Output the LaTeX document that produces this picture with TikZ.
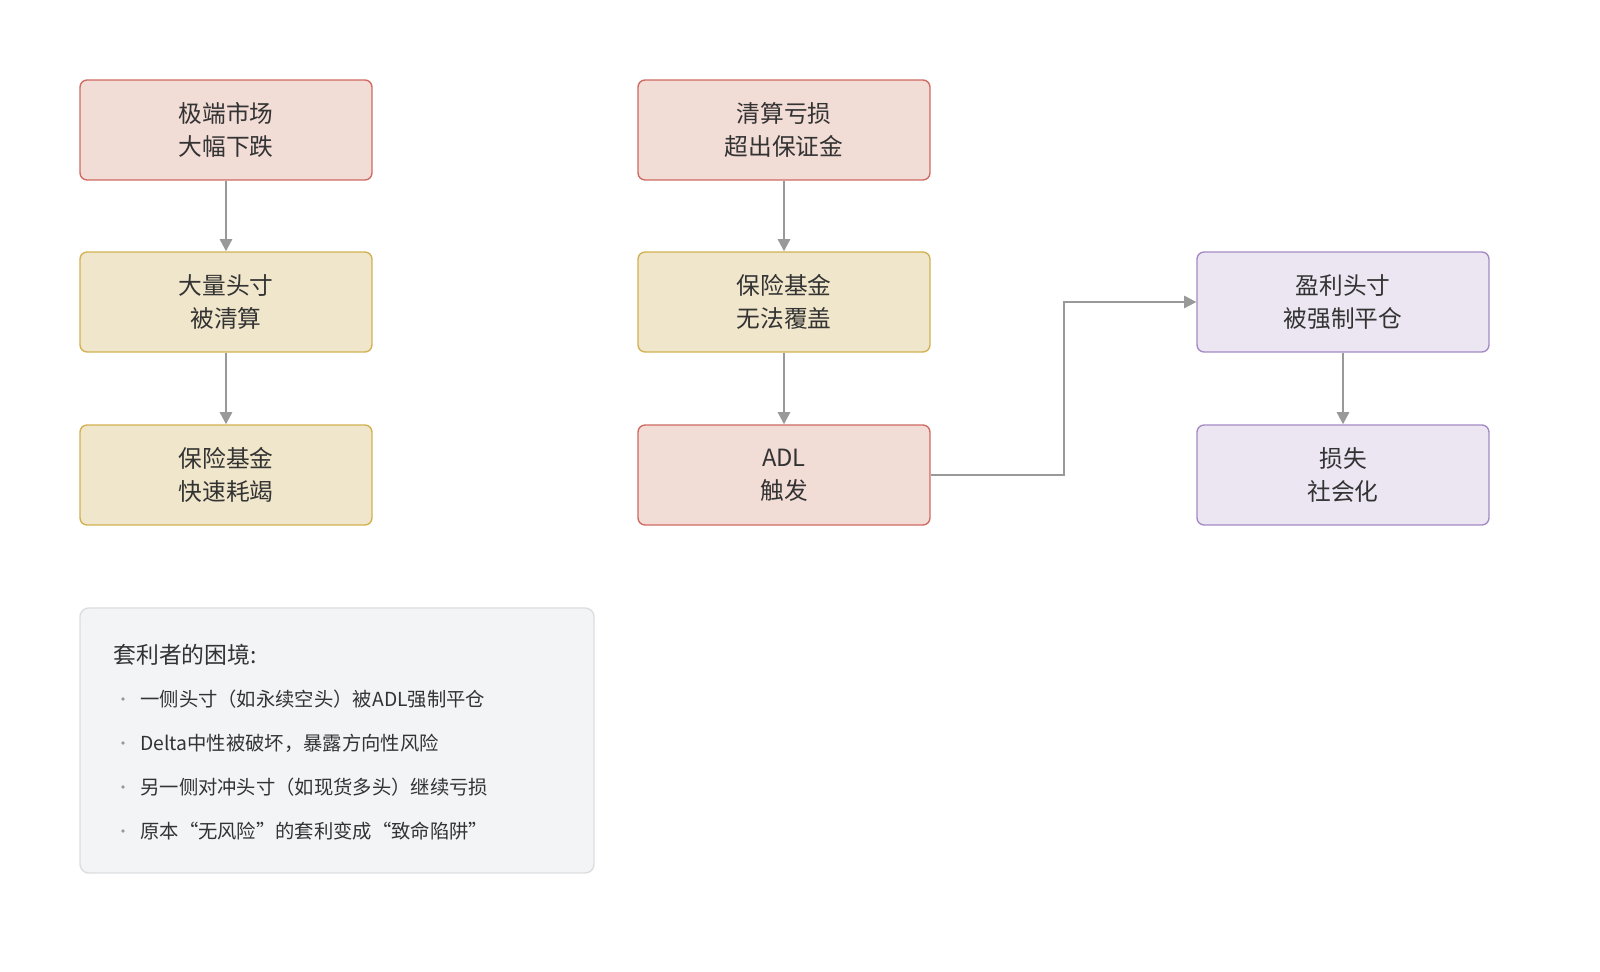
\documentclass[tikz,border=0pt]{standalone}
\usepackage{fontspec}
\setmainfont{Noto Sans CJK SC}
\usetikzlibrary{arrows.meta,positioning}
\definecolor{redF}{HTML}{F2DCD6}\definecolor{redD}{HTML}{D06A62}
\definecolor{yelF}{HTML}{F0E6CB}\definecolor{yelD}{HTML}{D2B150}
\definecolor{purF}{HTML}{ECE6F2}\definecolor{purD}{HTML}{A48BC4}
\definecolor{noteF}{HTML}{F3F4F6}\definecolor{noteD}{HTML}{DCDDE0}
\definecolor{lineC}{HTML}{999999}\definecolor{txtC}{HTML}{333333}
\tikzset{
 BoxStyle/.style = {draw, rounded corners=4pt, line width=0.8pt,
  minimum width=5.84cm, minimum height=2cm, align=center,
  text=txtC, font=\fontsize{13.5}{19}\selectfont, inner sep=0pt},
 RedBox/.style = {BoxStyle, fill=redF, draw=redD},
 YelBox/.style = {BoxStyle, fill=yelF, draw=yelD},
 PurBox/.style = {BoxStyle, fill=purF, draw=purD},
 FlowArrow/.style = {draw=lineC, line width=1.3pt, -{Triangle[length=7pt,width=7pt]}},
 BulletStyle/.style = {anchor=west, text=txtC, font=\fontsize{11}{14}\selectfont, inner sep=0pt}
}
\begin{document}
\begin{tikzpicture}[x=0.02cm,y=-0.02cm]
\useasboundingbox (0,0) rectangle (1600,972);

\node[RedBox] (crash) at (226,130) {极端市场\\大幅下跌};
\node[YelBox] (liq) at (226,302) {大量头寸\\被清算};
\node[YelBox] (drain) at (226,475) {保险基金\\快速耗竭};

\node[RedBox] (loss) at (784,130) {清算亏损\\超出保证金};
\node[YelBox] (fund) at (784,302) {保险基金\\无法覆盖};
\node[RedBox] (adl) at (784,475) {ADL\\触发};

\node[PurBox] (win) at (1343,302) {盈利头寸\\被强制平仓};
\node[PurBox] (social) at (1343,475) {损失\\社会化};

\draw[FlowArrow] (crash) -- (liq);
\draw[FlowArrow] (liq) -- (drain);
\draw[FlowArrow] (loss) -- (fund);
\draw[FlowArrow] (fund) -- (adl);
\draw[FlowArrow] (adl.east) -- ++(133,0) |- (win.west);
\draw[FlowArrow] (win) -- (social);

% note
\draw[fill=noteF, draw=noteD, line width=0.8pt, rounded corners=5pt] (80,608) rectangle (594,873);
\node[BulletStyle, font=\fontsize{13}{16}\selectfont] (title) at (113,655) {套利者的困境:};
\foreach \t [count=\i] in {一侧头寸（如永续空头）被ADL强制平仓,
  Delta中性被破坏，暴露方向性风险,
  另一侧对冲头寸（如现货多头）继续亏损,
  原本“无风险”的套利变成“致命陷阱”}{
  \node[BulletStyle] (b\i) at (140,655+44*\i) {\t};
  \fill[lineC] (123,655+44*\i) circle (1.8);
}
\end{tikzpicture}
\end{document}
